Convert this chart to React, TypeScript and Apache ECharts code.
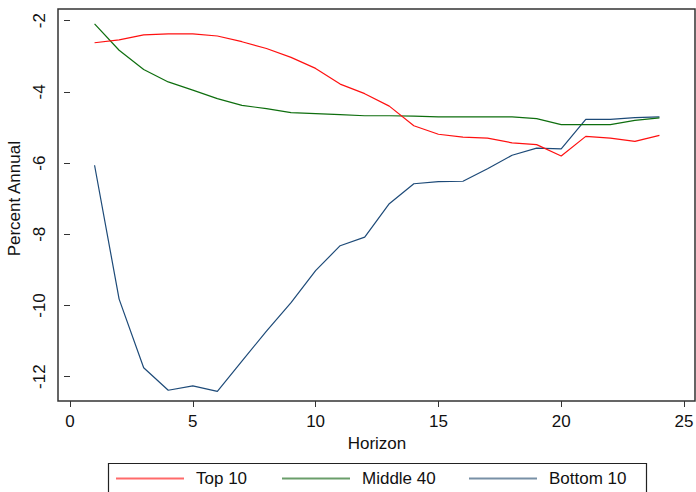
import React, { useEffect, useRef } from "react";
import * as echarts from "echarts";

const horizon = [1, 2, 3, 4, 5, 6, 7, 8, 9, 10, 11, 12, 13, 14, 15, 16, 17, 18, 19, 20, 21, 22, 23, 24];
const top10 = [-2.62, -2.54, -2.4, -2.37, -2.37, -2.43, -2.59, -2.78, -3.03, -3.34, -3.78, -4.05, -4.4, -4.95, -5.19, -5.27, -5.3, -5.43, -5.48, -5.8, -5.25, -5.3, -5.39, -5.22];
const middle40 = [-2.09, -2.83, -3.37, -3.72, -3.95, -4.19, -4.38, -4.47, -4.58, -4.61, -4.64, -4.67, -4.67, -4.68, -4.7, -4.7, -4.7, -4.7, -4.75, -4.92, -4.92, -4.92, -4.8, -4.73];
const bottom10 = [-6.06, -9.82, -11.75, -12.38, -12.26, -12.41, -11.56, -10.72, -9.92, -9.02, -8.32, -8.08, -7.14, -6.58, -6.52, -6.51, -6.16, -5.78, -5.58, -5.6, -4.77, -4.77, -4.72, -4.7];

const seriesNames = ["Top 10", "Middle 40", "Bottom 10"];
const lineColors = ["#ff1010", "#0e6e0e", "#1d4a78"];
const legendColors = ["#ff6a6a", "#6a9e6a", "#7890a6"];

const FONT = "Liberation Sans, Arial, sans-serif";

export default function App() {
  const ref = useRef<HTMLDivElement>(null);
  useEffect(() => {
    if (!ref.current) return;
    const chart = echarts.init(ref.current, undefined, { renderer: "svg" });
    const datasets = [top10, middle40, bottom10];
    const legendLefts = [116, 282, 469];
    chart.setOption({
      animation: false,
      backgroundColor: "#ffffff",
      textStyle: { fontFamily: FONT },
      grid: { left: 70, right: 12, top: 20.7, bottom: 115.3, containLabel: false, outerBoundsMode: "none" },
      xAxis: {
        type: "value",
        min: 0,
        max: 25,
        interval: 5,
        offset: 24.3,
        axisLine: { show: false },
        axisTick: { show: true, length: 6, inside: false, lineStyle: { color: "#333", width: 1 } },
        splitLine: { show: false },
        axisLabel: { fontSize: 17, color: "#111", margin: 12, fontFamily: FONT },
        name: "Horizon",
        nameLocation: "middle",
        nameGap: 32,
        nameTextStyle: { fontSize: 17, color: "#111", fontFamily: FONT },
      },
      yAxis: {
        type: "value",
        min: -12,
        max: -2,
        interval: 2,
        offset: 12,
        axisLine: { show: false },
        axisTick: { show: true, length: 6, inside: false, lineStyle: { color: "#333", width: 1 } },
        splitLine: { show: false },
        axisLabel: { fontSize: 17, color: "#111", margin: 10, rotate: 90, fontFamily: FONT },
        name: "Percent Annual",
        nameLocation: "middle",
        nameRotate: 90,
        nameGap: 33,
        nameTextStyle: { fontSize: 17, color: "#111", fontFamily: FONT },
      },
      legend: seriesNames.map((n, i) => ({
        data: [{ name: n, itemStyle: { color: legendColors[i] } }],
        left: legendLefts[i],
        top: 470,
        icon: "rect",
        itemWidth: 68,
        itemHeight: 2,
        itemGap: 0,
        padding: 0,
        selectedMode: false,
        textStyle: { fontSize: 17, color: "#111", fontFamily: FONT, padding: [0, 0, 0, 7] },
      })),
      graphic: [
        {
          type: "rect",
          shape: { x: 58, y: 9, width: 637, height: 392 },
          style: { fill: "none", stroke: "#333", lineWidth: 1.5 },
          silent: true,
          z: 10,
        },
        {
          type: "rect",
          shape: { x: 108.5, y: 463.5, width: 538, height: 40 },
          style: { fill: "none", stroke: "#222", lineWidth: 1.2 },
          silent: true,
        },
      ],
      series: datasets.map((d, i) => ({
        name: seriesNames[i],
        type: "line",
        data: horizon.map((h, j) => [h, d[j]]),
        symbol: "none",
        showSymbol: false,
        clip: false,
        lineStyle: { color: lineColors[i], width: 1.2 },
        itemStyle: { color: lineColors[i] },
        z: 3 - i,
      })),
    });
    return () => chart.dispose();
  }, []);
  return <div ref={ref} style={{ width: 696, height: 492, position: "absolute", left: 0, top: 0 }} />;
}
